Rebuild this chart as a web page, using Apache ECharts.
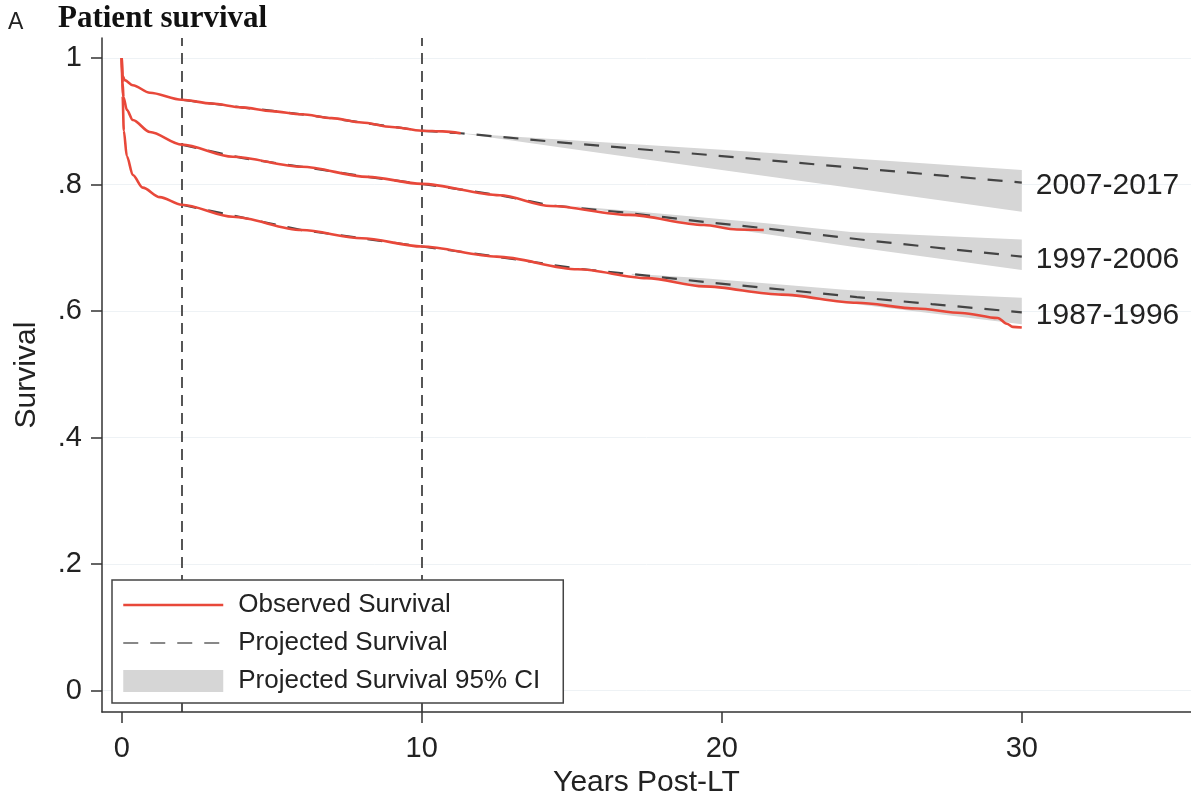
<!DOCTYPE html>
<html>
<head>
<meta charset="utf-8">
<title>Patient survival</title>
<script src="https://cdn.jsdelivr.net/npm/echarts@6/dist/echarts.min.js"></script>
<style>
  html, body { margin: 0; padding: 0; background: #ffffff; }
  #chart { width: 1191px; height: 803px; }
</style>
</head>
<body>
<div id="chart"></div>
<script>
// cohort labels, shown at the end of each projected line
const cohorts = ['2007-2017', '1997-2006', '1987-1996'];

// observed survival
const obsYears2007 = [0, 0.03, 0.1, 0.37, 0.94, 2, 3, 4, 5, 6, 7, 8, 9, 10, 10.7, 11.3];
const obsSurv2007 = [1, 0.972, 0.965, 0.957, 0.945, 0.934, 0.928, 0.922, 0.916, 0.911, 0.905, 0.898, 0.891, 0.885, 0.884, 0.881];
const obsYears1997 = [0, 0.03, 0.06, 0.17, 0.37, 0.94, 2, 3.7, 6, 8.2, 10, 12.6, 14.3, 16.9, 19.4, 20.5, 21.4];
const obsSurv1997 = [1, 0.96, 0.938, 0.918, 0.902, 0.883, 0.863, 0.844, 0.828, 0.812, 0.801, 0.783, 0.766, 0.752, 0.736, 0.729, 0.728];
const obsYears1987 = [0, 0.03, 0.07, 0.17, 0.37, 0.7, 1.27, 2, 3.7, 6, 8, 10, 12.5, 15.2, 17.5, 19.4, 22, 24.5, 26.5, 28, 29.2, 29.5, 29.7, 30];
const obsSurv1987 = [1, 0.94, 0.885, 0.845, 0.815, 0.795, 0.780, 0.768, 0.749, 0.728, 0.715, 0.702, 0.686, 0.666, 0.652, 0.639, 0.626, 0.613, 0.604, 0.597, 0.589, 0.580, 0.575, 0.574];

// projected survival
const projYears2007 = [2, 4, 6, 8, 10, 11.3, 15, 20, 25, 30];
const projSurv2007 = [0.934, 0.922, 0.911, 0.898, 0.885, 0.881, 0.865, 0.845, 0.824, 0.803];
const projYears1997 = [2, 4, 6, 8.2, 10, 12.6, 14.3, 16.9, 19.4, 21.4, 25, 30];
const projSurv1997 = [0.863, 0.842, 0.828, 0.812, 0.801, 0.783, 0.767, 0.755, 0.741, 0.731, 0.711, 0.686];
const projYears1987 = [2, 4, 6, 8, 10, 12.5, 15.2, 17.5, 19.4, 22, 24.5, 27, 30];
const projSurv1987 = [0.768, 0.748, 0.728, 0.715, 0.702, 0.686, 0.667, 0.656, 0.646, 0.634, 0.622, 0.611, 0.598];

// projected 95% CI
const ciYears2007 = [11.3, 15, 20, 25, 30];
const ciUpper2007 = [0.881, 0.870, 0.855, 0.839, 0.823];
const ciLower2007 = [0.881, 0.856, 0.823, 0.790, 0.757];
const ciYears1997 = [15, 17, 21.4, 24.3, 30];
const ciUpper1997 = [0.766, 0.758, 0.739, 0.725, 0.713];
const ciLower1997 = [0.766, 0.752, 0.722, 0.702, 0.665];
const ciYears1987 = [17, 19.4, 24.3, 30];
const ciUpper1987 = [0.659, 0.652, 0.633, 0.621];
const ciLower1987 = [0.657, 0.640, 0.612, 0.579];

// axes
const xTicks = [0, 10, 20, 30];
const yTicks = [0, 0.2, 0.4, 0.6, 0.8, 1];
const refYears = [2, 10];

const OBS = 'Observed Survival';
const PROJ = 'Projected Survival';
const CI = 'Projected Survival 95% CI';
const sans = "'Liberation Sans', Arial, sans-serif";
const red = '#e8483a';
const dark = '#444444';
const band = '#d6d6d6';
const noSymbol = { color: 'rgba(0,0,0,0)', borderWidth: 0, opacity: 0 };

const zip = (xs, ys) => xs.map((x, i) => [x, ys[i]]);

function observed(years, surv) {
    return {
        type: 'line', name: OBS, z: 4, silent: true,
        data: zip(years, surv),
        showSymbol: false, symbol: 'none',
        smooth: 0.3, smoothMonotone: 'x',
        lineStyle: { color: red, width: 2.6 },
        itemStyle: { color: red }
    };
}

function projected(years, surv, label) {
    return {
        type: 'line', name: PROJ, z: 3, silent: true,
        data: zip(years, surv),
        showSymbol: false, symbol: 'none',
        lineStyle: { color: dark, width: 2.2, type: [15, 12] },
        itemStyle: { color: dark },
        endLabel: {
            show: true, distance: 14, offset: [0, 3],
            formatter: () => label,
            fontFamily: sans, fontSize: 30, color: '#222'
        }
    };
}

function ciBand(years, upper, lower) {
    return {
        type: 'custom', name: CI, z: 1, silent: true,
        itemStyle: { color: band },
        data: [[years[0], upper[0]]],
        renderItem: function (params, api) {
            const pts = years.map((t, i) => api.coord([t, upper[i]]));
            for (let i = years.length - 1; i >= 0; i--) {
                pts.push(api.coord([years[i], lower[i]]));
            }
            return { type: 'polygon', shape: { points: pts }, style: { fill: band } };
        }
    };
}

const chart = echarts.init(document.getElementById('chart'));

const option = {
    backgroundColor: '#ffffff',
    animation: false,
    title: [
        { text: 'A', left: 3, top: 6, textStyle: { fontFamily: sans, fontSize: 23, fontWeight: 'normal', color: '#222' } },
        { text: 'Patient survival', left: 53, top: -2, textStyle: { fontFamily: "'Liberation Serif', 'Times New Roman', serif", fontSize: 31, fontWeight: 'bold', color: '#111' } }
    ],
    grid: { left: 102, right: 0, top: 38, bottom: 90 },
    legend: {
        orient: 'vertical', left: 112, top: 580,
        padding: [12, 23, 9, 10],
        itemWidth: 100, itemHeight: 22, itemGap: 12,
        backgroundColor: '#ffffff', borderColor: '#444', borderWidth: 1.5,
        selectedMode: false,
        textStyle: { fontFamily: sans, fontSize: 26, color: '#222', padding: [0, 0, 0, 10] },
        data: [
            { name: OBS, itemStyle: noSymbol, lineStyle: { color: red, width: 2.5 } },
            { name: PROJ, itemStyle: noSymbol, lineStyle: { color: '#888', width: 2 } },
            { name: CI, icon: 'rect', itemStyle: { color: band } }
        ]
    },
    xAxis: {
        type: 'value', min: -0.657, max: 35.64,
        name: 'Years Post-LT', nameLocation: 'middle', nameGap: 53,
        nameTextStyle: { fontFamily: sans, fontSize: 30, color: '#222' },
        axisLine: { onZero: false, lineStyle: { color: '#333', width: 1.5 } },
        axisTick: { customValues: xTicks, length: 11, lineStyle: { color: '#333', width: 1.5 } },
        axisLabel: { customValues: xTicks, margin: 22, fontFamily: sans, fontSize: 29, color: '#222' },
        splitLine: { show: false }
    },
    yAxis: {
        type: 'value', min: -0.034, max: 1.0316,
        name: 'Survival', nameLocation: 'middle', nameGap: 60,
        nameTextStyle: { fontFamily: sans, fontSize: 30, color: '#222' },
        axisLine: { show: true, onZero: false, lineStyle: { color: '#333', width: 1.5 } },
        axisTick: { show: true, customValues: yTicks, length: 11, lineStyle: { color: '#333', width: 1.5 } },
        axisLabel: {
            customValues: yTicks, margin: 20, fontFamily: sans, fontSize: 29, color: '#222',
            formatter: v => (v === 0 || v === 1) ? String(v) : String(v).replace(/^0/, '')
        },
        splitLine: { show: false }
    },
    series: [
        {
            // grid lines and reference lines at 2 and 10 years
            type: 'line', name: 'refs', z: 0, silent: true, data: [],
            markLine: {
                z: 0, silent: true, symbol: 'none', label: { show: false },
                data: [
                    ...yTicks.map(v => ({ yAxis: v, lineStyle: { color: '#eef2f5', width: 1, type: 'solid' } })),
                    ...refYears.map(t => ({ xAxis: t, lineStyle: { color: dark, width: 1.8, type: [11, 7] } }))
                ]
            }
        },
        ciBand(ciYears2007, ciUpper2007, ciLower2007),
        ciBand(ciYears1997, ciUpper1997, ciLower1997),
        ciBand(ciYears1987, ciUpper1987, ciLower1987),
        projected(projYears2007, projSurv2007, cohorts[0]),
        projected(projYears1997, projSurv1997, cohorts[1]),
        projected(projYears1987, projSurv1987, cohorts[2]),
        observed(obsYears2007, obsSurv2007),
        observed(obsYears1997, obsSurv1997),
        observed(obsYears1987, obsSurv1987)
    ]
};

chart.setOption(option);
</script>
</body>
</html>
